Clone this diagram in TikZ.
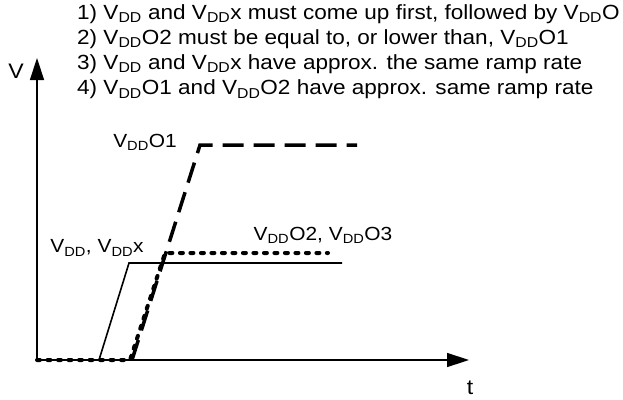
\documentclass[tikz,border=0pt]{standalone}
\usepackage{fontspec}
\setmainfont{Liberation Sans}[FakeStretch=1.1]
\usetikzlibrary{arrows.meta}
\newcommand{\Vdd}{V\textsubscript{DD}}

\begin{document}
\begin{tikzpicture}[x=1pt,y=-1pt,
  axis/.style={line width=1.4pt,-{Triangle[length=22pt,width=14pt]}},
  railcore/.style={line width=1.6pt},
  railone/.style={line width=3.5pt,dash pattern=on 21pt off 10pt},
  railtwo/.style={line width=4pt,line cap=round,dash pattern=on 3pt off 7.5pt},
  lbl/.style={font=\fontsize{19}{25}\selectfont,inner sep=0pt}]
  \useasboundingbox (0,0) rectangle (623,399);
  % axes
  \coordinate (o) at (37,360);
  \coordinate (vtop) at (37,58);
  \coordinate (tend) at (469,360);
  \draw[axis] (o) -- (vtop);
  \draw[axis] (o) -- (tend);
  \node[lbl,font=\fontsize{21}{25}\selectfont] (vlab) at (16,71) {V};
  \node[lbl,font=\fontsize{21}{25}\selectfont] (tlab) at (470,388) {t};
  % VDD, VDDx
  \draw[railcore] (o) -- (99,360) -- (129,263) -- (342,263);
  % VDDO1
  \draw[railone] (132,360) -- (200,145) -- (357,145);
  % VDDO2, VDDO3
  \draw[railtwo] (o) -- (130,360) -- (165,253) -- (328,253);
  % labels
  \node[lbl] (vddlab) at (97,248) {\Vdd, \Vdd x};
  \node[lbl] (o1lab) at (145,142) {\Vdd O1};
  \node[lbl] (o2lab) at (323,235) {\Vdd O2, \Vdd O3};
  \node[lbl,anchor=north west,align=left,font=\fontsize{20.5}{25.3}\selectfont] (notes) at (77,4)
    {1) \Vdd\ and \Vdd x must come up first, followed by \Vdd O\\
     2) \Vdd O2 must be equal to, or lower than, \Vdd O1\\
     3) \Vdd\ and \Vdd x have approx. the same ramp rate\\
     4) \Vdd O1 and \Vdd O2 have approx. same ramp rate};
\end{tikzpicture}
\end{document}
